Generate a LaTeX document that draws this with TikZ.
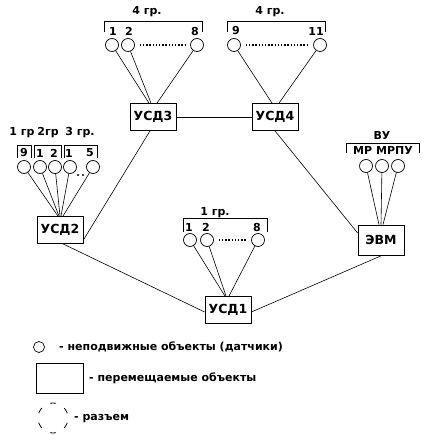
\documentclass[tikz,border=0pt]{standalone}
\usepackage{fontspec}
\setmainfont{DejaVu Sans}
\usetikzlibrary{calc}
\begin{document}
\begin{tikzpicture}[x=1pt,y=-1pt,
  every node/.style={inner sep=0pt},
  lbl/.style={font=\bfseries\fontsize{11}{13}\selectfont},
  unit/.style={draw, line width=0.8pt, minimum width=46pt, minimum height=27pt, font=\bfseries\fontsize{12.5}{14}\selectfont},
  sensor/.style={draw, circle, line width=0.7pt, minimum size=13pt},
  wire/.style={line width=0.6pt},
  brk/.style={line width=0.9pt},
  dots/.style={line width=1.4pt, dash pattern=on 1.4pt off 1.8pt}]
\useasboundingbox (0,0) rectangle (431,435);

% units
\node[unit] (usd3) at (153,117) {УСД3};
\node[unit] (usd4) at (275,117) {УСД4};
\node[unit] (usd2) at (60,230) {УСД2};
\node[unit, minimum height=30pt] (evm) at (381,240) {ЭВМ};
\node[unit] (usd1) at (228,310) {УСД1};

\draw[wire] (usd3) -- (usd4);
\draw[wire] ($(usd3.south)+(-3,0)$) -- ($(usd2.east)+(0,10)$);
\draw[wire] (usd4.south) -- ($(evm.west)+(0,-7)$);
\draw[wire] ($(usd2.south)+(3,0)$) -- ($(usd1.west)+(0,2)$);
\draw[wire] ($(evm.south)+(1,0)$) -- ($(usd1.east)+(0,2)$);

% top group 1
\node[lbl] (t1) at (147,12) {4 гр.};
\draw[brk] (104,32) -- (104,21) -- (202,21) -- (202,32);
\node[sensor] (a1) at (112,45) {};
\node[sensor] (a2) at (128,45) {};
\node[sensor] (a8) at (197,45) {};
\node[lbl] (la1) at (113,31) {1};
\node[lbl] (la2) at (129,31) {2};
\node[lbl] (la8) at (195,31) {8};
\draw[dots] ($(a2.east)+(5,0)$) -- ($(a8.west)+(-4,0)$);
\draw[wire] (a1) -- ($(usd3.north)+(-4,0)$);
\draw[wire] (a2) -- ($(usd3.north)+(-2,0)$);
\draw[wire] (a8) -- ($(usd3.north)+(4,0)$);

% top group 2
\node[lbl] (t2) at (270,12) {4 гр.};
\draw[brk] (227,32) -- (227,21) -- (325,21) -- (325,32);
\node[sensor] (b9) at (234,45) {};
\node[sensor] (b11) at (320,45) {};
\node[lbl] (lb9) at (236,31) {9};
\node[lbl] (lb11) at (316,31) {11};
\draw[dots] ($(b9.east)+(5,0)$) -- ($(b11.west)+(-4,0)$);
\draw[wire] (b9) -- ($(usd4.north)+(-3,0)$);
\draw[wire] (b11) -- ($(usd4.north)+(4,0)$);

% left group
\node[lbl] (t3) at (22,133) {1 гр};
\node[lbl] (t4) at (48,133) {2гр};
\node[lbl] (t5) at (80,133) {3 гр.};
\draw[brk] (17,158) -- (17,145) -- (31,145) -- (31,158);
\draw[brk] (34,158) -- (34,145) -- (61,145) -- (61,158);
\draw[brk] (64,158) -- (64,145) -- (97,145) -- (97,158);
\node[sensor] (c1) at (24,167) {};
\node[sensor] (c2) at (40,167) {};
\node[sensor] (c3) at (55,167) {};
\node[sensor] (c4) at (70,167) {};
\node[sensor] (c5) at (93,167) {};
\node[lbl] (lc1) at (24,153) {9};
\node[lbl] (lc2) at (40,153) {1};
\node[lbl] (lc3) at (54,153) {2};
\node[lbl] (lc4) at (69,153) {1};
\node[lbl] (lc5) at (90,153) {5};
\fill (78,175) circle (1.2);
\fill (83,175) circle (1.2);
\draw[wire] (c1) -- ($(usd2.north)+(-2,0)$);
\draw[wire] (c2) -- ($(usd2.north)+(-1,0)$);
\draw[wire] (c3) -- ($(usd2.north)+(0,0)$);
\draw[wire] (c4) -- ($(usd2.north)+(1,0)$);
\draw[wire] (c5) -- ($(usd2.north)+(3,0)$);

% bottom group
\node[lbl] (t6) at (215,213) {1 гр.};
\draw[brk] (183,232) -- (183,218) -- (267,218) -- (267,232);
\node[sensor] (d1) at (190,240) {};
\node[sensor] (d2) at (207,240) {};
\node[sensor] (d8) at (258,240) {};
\node[lbl] (ld1) at (189,227) {1};
\node[lbl] (ld2) at (206,227) {2};
\node[lbl] (ld8) at (257,227) {8};
\draw[dots] ($(d2.east)+(5,0)$) -- ($(d8.west)+(-5,0)$);
\draw[wire] (d1) -- ($(usd1.north)+(-3,0)$);
\draw[wire] (d2) -- ($(usd1.north)+(-2,0)$);
\draw[wire] (d8) -- ($(usd1.north)+(1,0)$);

% VU group
\node[lbl] (t7) at (382,135) {ВУ};
\draw[brk] (346,153) -- (346,143) -- (419,143) -- (419,153);
\node[lbl] (le) at (383,150) {МР МРПУ};
\node[sensor] (e1) at (366,166) {};
\node[sensor] (e2) at (382,166) {};
\node[sensor] (e3) at (398,166) {};
\draw[wire] (e1) -- ($(evm.north)+(-2,0)$);
\draw[wire] (e2) -- ($(evm.north)+(0,0)$);
\draw[wire] (e3) -- ($(evm.north)+(2,0)$);

% legend
\node[sensor, minimum size=11pt] (k1) at (39,347) {};
\node[lbl, anchor=west] (k1t) at (59,347) {- неподвижные объекты (датчики)};
\node[draw, line width=0.8pt, minimum width=47pt, minimum height=30pt] (k2) at (59.5,378) {};
\node[lbl, anchor=west] (k2t) at (89,378) {- перемещаемые объекты};
\node[circle, minimum size=30pt] (k3) at (53,418) {};
\draw[line width=0.8pt, dash pattern=on 6pt off 9.7pt, dash phase=10.85pt] (k3.center) circle (15);
\node[lbl, anchor=west] (k3t) at (74,419) {- разъем};
\end{tikzpicture}
\end{document}
